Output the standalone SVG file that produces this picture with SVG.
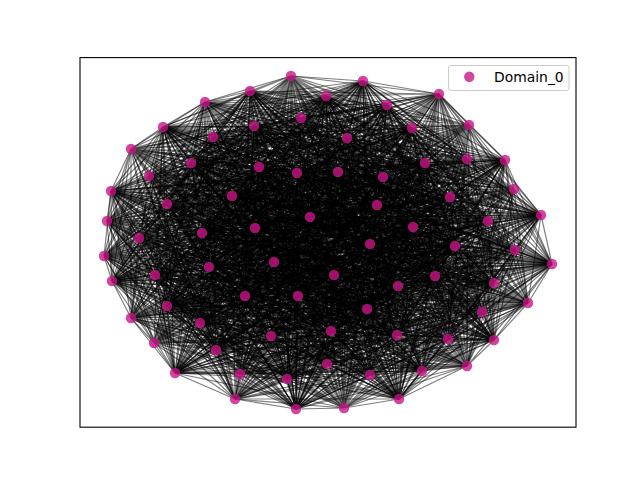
<svg xmlns="http://www.w3.org/2000/svg" width="640" height="480" viewBox="0 0 640 480">
<style>
.e{fill:none;stroke:#000;stroke-opacity:0.5;stroke-width:1.2}
.n{fill:#c71585;fill-opacity:0.8}
.t{font-family:"DejaVu Sans","Liberation Sans",sans-serif;font-size:13.9px;fill:#000}
</style>
<rect width="640" height="480" fill="#fff"/>
<g id="edges">
<path class="e" d="M291 76 250 91M291 76 163 127M291 76 111 191M291 76 326 96M291 76 254 126M291 76 191 163M291 76 259 167M291 76 232 196M291 76 310 217M291 76 202 233M291 76 363 81M291 76 387 105M291 76 412 128M291 76 505 160M291 76 425 163M291 76 383 177M291 76 450 197M291 76 541 215M291 76 413 227M291 76 455 246M291 76 552 264M291 76 112 281M291 76 209 267M291 76 245 296M291 76 167 306M291 76 200 323M291 76 216 350M291 76 175 373M291 76 287 379M291 76 296 409M291 76 331 331M291 76 398 286M291 76 494 283M291 76 367 309M291 76 397 335M291 76 494 340M291 76 422 371M291 76 399 399"/>
<path class="e" d="M205 102 250 91M205 102 163 127M205 102 111 191M205 102 326 96M205 102 254 126M205 102 191 163M205 102 259 167M205 102 232 196M205 102 310 217M205 102 202 233M205 102 363 81M205 102 387 105M205 102 412 128M205 102 505 160M205 102 425 163M205 102 383 177M205 102 450 197M205 102 541 215M205 102 413 227M205 102 455 246M205 102 552 264M205 102 112 281M205 102 209 267M205 102 245 296M205 102 167 306M205 102 200 323M205 102 216 350M205 102 175 373M205 102 287 379M205 102 296 409M205 102 331 331M205 102 398 286M205 102 494 283M205 102 367 309M205 102 397 335M205 102 494 340M205 102 422 371M205 102 399 399"/>
<path class="e" d="M131 149 250 91M131 149 163 127M131 149 111 191M131 149 326 96M131 149 254 126M131 149 191 163M131 149 259 167M131 149 232 196M131 149 310 217M131 149 202 233M131 149 363 81M131 149 387 105M131 149 412 128M131 149 505 160M131 149 425 163M131 149 383 177M131 149 450 197M131 149 541 215M131 149 413 227M131 149 455 246M131 149 552 264M131 149 112 281M131 149 209 267M131 149 245 296M131 149 167 306M131 149 200 323M131 149 216 350M131 149 175 373M131 149 287 379M131 149 296 409M131 149 331 331M131 149 398 286M131 149 494 283M131 149 367 309M131 149 397 335M131 149 494 340M131 149 422 371M131 149 399 399"/>
<path class="e" d="M107 221 250 91M107 221 163 127M107 221 111 191M107 221 326 96M107 221 254 126M107 221 191 163M107 221 259 167M107 221 232 196M107 221 310 217M107 221 202 233M107 221 363 81M107 221 387 105M107 221 412 128M107 221 505 160M107 221 425 163M107 221 383 177M107 221 450 197M107 221 541 215M107 221 413 227M107 221 455 246M107 221 552 264M107 221 112 281M107 221 209 267M107 221 245 296M107 221 167 306M107 221 200 323M107 221 216 350M107 221 175 373M107 221 287 379M107 221 296 409M107 221 331 331M107 221 398 286M107 221 494 283M107 221 367 309M107 221 397 335M107 221 494 340M107 221 422 371M107 221 399 399"/>
<path class="e" d="M301 118 250 91M301 118 163 127M301 118 111 191M301 118 326 96M301 118 254 126M301 118 191 163M301 118 259 167M301 118 232 196M301 118 310 217M301 118 202 233M301 118 363 81M301 118 387 105M301 118 412 128M301 118 505 160M301 118 425 163M301 118 383 177M301 118 450 197M301 118 541 215M301 118 413 227M301 118 455 246M301 118 552 264M301 118 112 281M301 118 209 267M301 118 245 296M301 118 167 306M301 118 200 323M301 118 216 350M301 118 175 373M301 118 287 379M301 118 296 409M301 118 331 331M301 118 398 286M301 118 494 283M301 118 367 309M301 118 397 335M301 118 494 340M301 118 422 371M301 118 399 399"/>
<path class="e" d="M213 137 250 91M213 137 163 127M213 137 111 191M213 137 326 96M213 137 254 126M213 137 191 163M213 137 259 167M213 137 232 196M213 137 310 217M213 137 202 233M213 137 363 81M213 137 387 105M213 137 412 128M213 137 505 160M213 137 425 163M213 137 383 177M213 137 450 197M213 137 541 215M213 137 413 227M213 137 455 246M213 137 552 264M213 137 112 281M213 137 209 267M213 137 245 296M213 137 167 306M213 137 200 323M213 137 216 350M213 137 175 373M213 137 287 379M213 137 296 409M213 137 331 331M213 137 398 286M213 137 494 283M213 137 367 309M213 137 397 335M213 137 494 340M213 137 422 371M213 137 399 399"/>
<path class="e" d="M149 176 250 91M149 176 163 127M149 176 111 191M149 176 326 96M149 176 254 126M149 176 191 163M149 176 259 167M149 176 232 196M149 176 310 217M149 176 202 233M149 176 363 81M149 176 387 105M149 176 412 128M149 176 505 160M149 176 425 163M149 176 383 177M149 176 450 197M149 176 541 215M149 176 413 227M149 176 455 246M149 176 552 264M149 176 112 281M149 176 209 267M149 176 245 296M149 176 167 306M149 176 200 323M149 176 216 350M149 176 175 373M149 176 287 379M149 176 296 409M149 176 331 331M149 176 398 286M149 176 494 283M149 176 367 309M149 176 397 335M149 176 494 340M149 176 422 371M149 176 399 399"/>
<path class="e" d="M297 173 250 91M297 173 163 127M297 173 111 191M297 173 326 96M297 173 254 126M297 173 191 163M297 173 259 167M297 173 232 196M297 173 310 217M297 173 202 233M297 173 363 81M297 173 387 105M297 173 412 128M297 173 505 160M297 173 425 163M297 173 383 177M297 173 450 197M297 173 541 215M297 173 413 227M297 173 455 246M297 173 552 264M297 173 112 281M297 173 209 267M297 173 245 296M297 173 167 306M297 173 200 323M297 173 216 350M297 173 175 373M297 173 287 379M297 173 296 409M297 173 331 331M297 173 398 286M297 173 494 283M297 173 367 309M297 173 397 335M297 173 494 340M297 173 422 371M297 173 399 399"/>
<path class="e" d="M167 204 250 91M167 204 163 127M167 204 111 191M167 204 326 96M167 204 254 126M167 204 191 163M167 204 259 167M167 204 232 196M167 204 310 217M167 204 202 233M167 204 363 81M167 204 387 105M167 204 412 128M167 204 505 160M167 204 425 163M167 204 383 177M167 204 450 197M167 204 541 215M167 204 413 227M167 204 455 246M167 204 552 264M167 204 112 281M167 204 209 267M167 204 245 296M167 204 167 306M167 204 200 323M167 204 216 350M167 204 175 373M167 204 287 379M167 204 296 409M167 204 331 331M167 204 398 286M167 204 494 283M167 204 367 309M167 204 397 335M167 204 494 340M167 204 422 371M167 204 399 399"/>
<path class="e" d="M255 228 250 91M255 228 163 127M255 228 111 191M255 228 326 96M255 228 254 126M255 228 191 163M255 228 259 167M255 228 232 196M255 228 310 217M255 228 202 233M255 228 363 81M255 228 387 105M255 228 412 128M255 228 505 160M255 228 425 163M255 228 383 177M255 228 450 197M255 228 541 215M255 228 413 227M255 228 455 246M255 228 552 264M255 228 112 281M255 228 209 267M255 228 245 296M255 228 167 306M255 228 200 323M255 228 216 350M255 228 175 373M255 228 287 379M255 228 296 409M255 228 331 331M255 228 398 286M255 228 494 283M255 228 367 309M255 228 397 335M255 228 494 340M255 228 422 371M255 228 399 399"/>
<path class="e" d="M139 238 250 91M139 238 163 127M139 238 111 191M139 238 326 96M139 238 254 126M139 238 191 163M139 238 259 167M139 238 232 196M139 238 310 217M139 238 202 233M139 238 363 81M139 238 387 105M139 238 412 128M139 238 505 160M139 238 425 163M139 238 383 177M139 238 450 197M139 238 541 215M139 238 413 227M139 238 455 246M139 238 552 264M139 238 112 281M139 238 209 267M139 238 245 296M139 238 167 306M139 238 200 323M139 238 216 350M139 238 175 373M139 238 287 379M139 238 296 409M139 238 331 331M139 238 398 286M139 238 494 283M139 238 367 309M139 238 397 335M139 238 494 340M139 238 422 371M139 238 399 399"/>
<path class="e" d="M439 94 250 91M439 94 163 127M439 94 111 191M439 94 326 96M439 94 254 126M439 94 191 163M439 94 259 167M439 94 232 196M439 94 310 217M439 94 202 233M439 94 363 81M439 94 387 105M439 94 412 128M439 94 505 160M439 94 425 163M439 94 383 177M439 94 450 197M439 94 541 215M439 94 413 227M439 94 455 246M439 94 552 264M439 94 112 281M439 94 209 267M439 94 245 296M439 94 167 306M439 94 200 323M439 94 216 350M439 94 175 373M439 94 287 379M439 94 296 409M439 94 331 331M439 94 398 286M439 94 494 283M439 94 367 309M439 94 397 335M439 94 494 340M439 94 422 371M439 94 399 399"/>
<path class="e" d="M469 125 250 91M469 125 163 127M469 125 111 191M469 125 326 96M469 125 254 126M469 125 191 163M469 125 259 167M469 125 232 196M469 125 310 217M469 125 202 233M469 125 363 81M469 125 387 105M469 125 412 128M469 125 505 160M469 125 425 163M469 125 383 177M469 125 450 197M469 125 541 215M469 125 413 227M469 125 455 246M469 125 552 264M469 125 112 281M469 125 209 267M469 125 245 296M469 125 167 306M469 125 200 323M469 125 216 350M469 125 175 373M469 125 287 379M469 125 296 409M469 125 331 331M469 125 398 286M469 125 494 283M469 125 367 309M469 125 397 335M469 125 494 340M469 125 422 371M469 125 399 399"/>
<path class="e" d="M347 138 250 91M347 138 163 127M347 138 111 191M347 138 326 96M347 138 254 126M347 138 191 163M347 138 259 167M347 138 232 196M347 138 310 217M347 138 202 233M347 138 363 81M347 138 387 105M347 138 412 128M347 138 505 160M347 138 425 163M347 138 383 177M347 138 450 197M347 138 541 215M347 138 413 227M347 138 455 246M347 138 552 264M347 138 112 281M347 138 209 267M347 138 245 296M347 138 167 306M347 138 200 323M347 138 216 350M347 138 175 373M347 138 287 379M347 138 296 409M347 138 331 331M347 138 398 286M347 138 494 283M347 138 367 309M347 138 397 335M347 138 494 340M347 138 422 371M347 138 399 399"/>
<path class="e" d="M467 159 250 91M467 159 163 127M467 159 111 191M467 159 326 96M467 159 254 126M467 159 191 163M467 159 259 167M467 159 232 196M467 159 310 217M467 159 202 233M467 159 363 81M467 159 387 105M467 159 412 128M467 159 505 160M467 159 425 163M467 159 383 177M467 159 450 197M467 159 541 215M467 159 413 227M467 159 455 246M467 159 552 264M467 159 112 281M467 159 209 267M467 159 245 296M467 159 167 306M467 159 200 323M467 159 216 350M467 159 175 373M467 159 287 379M467 159 296 409M467 159 331 331M467 159 398 286M467 159 494 283M467 159 367 309M467 159 397 335M467 159 494 340M467 159 422 371M467 159 399 399"/>
<path class="e" d="M338 172 250 91M338 172 163 127M338 172 111 191M338 172 326 96M338 172 254 126M338 172 191 163M338 172 259 167M338 172 232 196M338 172 310 217M338 172 202 233M338 172 363 81M338 172 387 105M338 172 412 128M338 172 505 160M338 172 425 163M338 172 383 177M338 172 450 197M338 172 541 215M338 172 413 227M338 172 455 246M338 172 552 264M338 172 112 281M338 172 209 267M338 172 245 296M338 172 167 306M338 172 200 323M338 172 216 350M338 172 175 373M338 172 287 379M338 172 296 409M338 172 331 331M338 172 398 286M338 172 494 283M338 172 367 309M338 172 397 335M338 172 494 340M338 172 422 371M338 172 399 399"/>
<path class="e" d="M514 189 250 91M514 189 163 127M514 189 111 191M514 189 326 96M514 189 254 126M514 189 191 163M514 189 259 167M514 189 232 196M514 189 310 217M514 189 202 233M514 189 363 81M514 189 387 105M514 189 412 128M514 189 505 160M514 189 425 163M514 189 383 177M514 189 450 197M514 189 541 215M514 189 413 227M514 189 455 246M514 189 552 264M514 189 112 281M514 189 209 267M514 189 245 296M514 189 167 306M514 189 200 323M514 189 216 350M514 189 175 373M514 189 287 379M514 189 296 409M514 189 331 331M514 189 398 286M514 189 494 283M514 189 367 309M514 189 397 335M514 189 494 340M514 189 422 371M514 189 399 399"/>
<path class="e" d="M377 205 250 91M377 205 163 127M377 205 111 191M377 205 326 96M377 205 254 126M377 205 191 163M377 205 259 167M377 205 232 196M377 205 310 217M377 205 202 233M377 205 363 81M377 205 387 105M377 205 412 128M377 205 505 160M377 205 425 163M377 205 383 177M377 205 450 197M377 205 541 215M377 205 413 227M377 205 455 246M377 205 552 264M377 205 112 281M377 205 209 267M377 205 245 296M377 205 167 306M377 205 200 323M377 205 216 350M377 205 175 373M377 205 287 379M377 205 296 409M377 205 331 331M377 205 398 286M377 205 494 283M377 205 367 309M377 205 397 335M377 205 494 340M377 205 422 371M377 205 399 399"/>
<path class="e" d="M488 221 250 91M488 221 163 127M488 221 111 191M488 221 326 96M488 221 254 126M488 221 191 163M488 221 259 167M488 221 232 196M488 221 310 217M488 221 202 233M488 221 363 81M488 221 387 105M488 221 412 128M488 221 505 160M488 221 425 163M488 221 383 177M488 221 450 197M488 221 541 215M488 221 413 227M488 221 455 246M488 221 552 264M488 221 112 281M488 221 209 267M488 221 245 296M488 221 167 306M488 221 200 323M488 221 216 350M488 221 175 373M488 221 287 379M488 221 296 409M488 221 331 331M488 221 398 286M488 221 494 283M488 221 367 309M488 221 397 335M488 221 494 340M488 221 422 371M488 221 399 399"/>
<path class="e" d="M370 244 250 91M370 244 163 127M370 244 111 191M370 244 326 96M370 244 254 126M370 244 191 163M370 244 259 167M370 244 232 196M370 244 310 217M370 244 202 233M370 244 363 81M370 244 387 105M370 244 412 128M370 244 505 160M370 244 425 163M370 244 383 177M370 244 450 197M370 244 541 215M370 244 413 227M370 244 455 246M370 244 552 264M370 244 112 281M370 244 209 267M370 244 245 296M370 244 167 306M370 244 200 323M370 244 216 350M370 244 175 373M370 244 287 379M370 244 296 409M370 244 331 331M370 244 398 286M370 244 494 283M370 244 367 309M370 244 397 335M370 244 494 340M370 244 422 371M370 244 399 399"/>
<path class="e" d="M515 250 250 91M515 250 163 127M515 250 111 191M515 250 326 96M515 250 254 126M515 250 191 163M515 250 259 167M515 250 232 196M515 250 310 217M515 250 202 233M515 250 363 81M515 250 387 105M515 250 412 128M515 250 505 160M515 250 425 163M515 250 383 177M515 250 450 197M515 250 541 215M515 250 413 227M515 250 455 246M515 250 552 264M515 250 112 281M515 250 209 267M515 250 245 296M515 250 167 306M515 250 200 323M515 250 216 350M515 250 175 373M515 250 287 379M515 250 296 409M515 250 331 331M515 250 398 286M515 250 494 283M515 250 367 309M515 250 397 335M515 250 494 340M515 250 422 371M515 250 399 399"/>
<path class="e" d="M104 256 250 91M104 256 163 127M104 256 111 191M104 256 326 96M104 256 254 126M104 256 191 163M104 256 259 167M104 256 232 196M104 256 310 217M104 256 202 233M104 256 363 81M104 256 387 105M104 256 412 128M104 256 505 160M104 256 425 163M104 256 383 177M104 256 450 197M104 256 541 215M104 256 413 227M104 256 455 246M104 256 552 264M104 256 112 281M104 256 209 267M104 256 245 296M104 256 167 306M104 256 200 323M104 256 216 350M104 256 175 373M104 256 287 379M104 256 296 409M104 256 331 331M104 256 398 286M104 256 494 283M104 256 367 309M104 256 397 335M104 256 494 340M104 256 422 371M104 256 399 399"/>
<path class="e" d="M155 275 250 91M155 275 163 127M155 275 111 191M155 275 326 96M155 275 254 126M155 275 191 163M155 275 259 167M155 275 232 196M155 275 310 217M155 275 202 233M155 275 363 81M155 275 387 105M155 275 412 128M155 275 505 160M155 275 425 163M155 275 383 177M155 275 450 197M155 275 541 215M155 275 413 227M155 275 455 246M155 275 552 264M155 275 112 281M155 275 209 267M155 275 245 296M155 275 167 306M155 275 200 323M155 275 216 350M155 275 175 373M155 275 287 379M155 275 296 409M155 275 331 331M155 275 398 286M155 275 494 283M155 275 367 309M155 275 397 335M155 275 494 340M155 275 422 371M155 275 399 399"/>
<path class="e" d="M274 262 250 91M274 262 163 127M274 262 111 191M274 262 326 96M274 262 254 126M274 262 191 163M274 262 259 167M274 262 232 196M274 262 310 217M274 262 202 233M274 262 363 81M274 262 387 105M274 262 412 128M274 262 505 160M274 262 425 163M274 262 383 177M274 262 450 197M274 262 541 215M274 262 413 227M274 262 455 246M274 262 552 264M274 262 112 281M274 262 209 267M274 262 245 296M274 262 167 306M274 262 200 323M274 262 216 350M274 262 175 373M274 262 287 379M274 262 296 409M274 262 331 331M274 262 398 286M274 262 494 283M274 262 367 309M274 262 397 335M274 262 494 340M274 262 422 371M274 262 399 399"/>
<path class="e" d="M298 296 250 91M298 296 163 127M298 296 111 191M298 296 326 96M298 296 254 126M298 296 191 163M298 296 259 167M298 296 232 196M298 296 310 217M298 296 202 233M298 296 363 81M298 296 387 105M298 296 412 128M298 296 505 160M298 296 425 163M298 296 383 177M298 296 450 197M298 296 541 215M298 296 413 227M298 296 455 246M298 296 552 264M298 296 112 281M298 296 209 267M298 296 245 296M298 296 167 306M298 296 200 323M298 296 216 350M298 296 175 373M298 296 287 379M298 296 296 409M298 296 331 331M298 296 398 286M298 296 494 283M298 296 367 309M298 296 397 335M298 296 494 340M298 296 422 371M298 296 399 399"/>
<path class="e" d="M131 318 250 91M131 318 163 127M131 318 111 191M131 318 326 96M131 318 254 126M131 318 191 163M131 318 259 167M131 318 232 196M131 318 310 217M131 318 202 233M131 318 363 81M131 318 387 105M131 318 412 128M131 318 505 160M131 318 425 163M131 318 383 177M131 318 450 197M131 318 541 215M131 318 413 227M131 318 455 246M131 318 552 264M131 318 112 281M131 318 209 267M131 318 245 296M131 318 167 306M131 318 200 323M131 318 216 350M131 318 175 373M131 318 287 379M131 318 296 409M131 318 331 331M131 318 398 286M131 318 494 283M131 318 367 309M131 318 397 335M131 318 494 340M131 318 422 371M131 318 399 399"/>
<path class="e" d="M154 343 250 91M154 343 163 127M154 343 111 191M154 343 326 96M154 343 254 126M154 343 191 163M154 343 259 167M154 343 232 196M154 343 310 217M154 343 202 233M154 343 363 81M154 343 387 105M154 343 412 128M154 343 505 160M154 343 425 163M154 343 383 177M154 343 450 197M154 343 541 215M154 343 413 227M154 343 455 246M154 343 552 264M154 343 112 281M154 343 209 267M154 343 245 296M154 343 167 306M154 343 200 323M154 343 216 350M154 343 175 373M154 343 287 379M154 343 296 409M154 343 331 331M154 343 398 286M154 343 494 283M154 343 367 309M154 343 397 335M154 343 494 340M154 343 422 371M154 343 399 399"/>
<path class="e" d="M271 336 250 91M271 336 163 127M271 336 111 191M271 336 326 96M271 336 254 126M271 336 191 163M271 336 259 167M271 336 232 196M271 336 310 217M271 336 202 233M271 336 363 81M271 336 387 105M271 336 412 128M271 336 505 160M271 336 425 163M271 336 383 177M271 336 450 197M271 336 541 215M271 336 413 227M271 336 455 246M271 336 552 264M271 336 112 281M271 336 209 267M271 336 245 296M271 336 167 306M271 336 200 323M271 336 216 350M271 336 175 373M271 336 287 379M271 336 296 409M271 336 331 331M271 336 398 286M271 336 494 283M271 336 367 309M271 336 397 335M271 336 494 340M271 336 422 371M271 336 399 399"/>
<path class="e" d="M240 374 250 91M240 374 163 127M240 374 111 191M240 374 326 96M240 374 254 126M240 374 191 163M240 374 259 167M240 374 232 196M240 374 310 217M240 374 202 233M240 374 363 81M240 374 387 105M240 374 412 128M240 374 505 160M240 374 425 163M240 374 383 177M240 374 450 197M240 374 541 215M240 374 413 227M240 374 455 246M240 374 552 264M240 374 112 281M240 374 209 267M240 374 245 296M240 374 167 306M240 374 200 323M240 374 216 350M240 374 175 373M240 374 287 379M240 374 296 409M240 374 331 331M240 374 398 286M240 374 494 283M240 374 367 309M240 374 397 335M240 374 494 340M240 374 422 371M240 374 399 399"/>
<path class="e" d="M235 399 250 91M235 399 163 127M235 399 111 191M235 399 326 96M235 399 254 126M235 399 191 163M235 399 259 167M235 399 232 196M235 399 310 217M235 399 202 233M235 399 363 81M235 399 387 105M235 399 412 128M235 399 505 160M235 399 425 163M235 399 383 177M235 399 450 197M235 399 541 215M235 399 413 227M235 399 455 246M235 399 552 264M235 399 112 281M235 399 209 267M235 399 245 296M235 399 167 306M235 399 200 323M235 399 216 350M235 399 175 373M235 399 287 379M235 399 296 409M235 399 331 331M235 399 398 286M235 399 494 283M235 399 367 309M235 399 397 335M235 399 494 340M235 399 422 371M235 399 399 399"/>
<path class="e" d="M327 364 250 91M327 364 163 127M327 364 111 191M327 364 326 96M327 364 254 126M327 364 191 163M327 364 259 167M327 364 232 196M327 364 310 217M327 364 202 233M327 364 363 81M327 364 387 105M327 364 412 128M327 364 505 160M327 364 425 163M327 364 383 177M327 364 450 197M327 364 541 215M327 364 413 227M327 364 455 246M327 364 552 264M327 364 112 281M327 364 209 267M327 364 245 296M327 364 167 306M327 364 200 323M327 364 216 350M327 364 175 373M327 364 287 379M327 364 296 409M327 364 331 331M327 364 398 286M327 364 494 283M327 364 367 309M327 364 397 335M327 364 494 340M327 364 422 371M327 364 399 399"/>
<path class="e" d="M334 275 250 91M334 275 163 127M334 275 111 191M334 275 326 96M334 275 254 126M334 275 191 163M334 275 259 167M334 275 232 196M334 275 310 217M334 275 202 233M334 275 363 81M334 275 387 105M334 275 412 128M334 275 505 160M334 275 425 163M334 275 383 177M334 275 450 197M334 275 541 215M334 275 413 227M334 275 455 246M334 275 552 264M334 275 112 281M334 275 209 267M334 275 245 296M334 275 167 306M334 275 200 323M334 275 216 350M334 275 175 373M334 275 287 379M334 275 296 409M334 275 331 331M334 275 398 286M334 275 494 283M334 275 367 309M334 275 397 335M334 275 494 340M334 275 422 371M334 275 399 399"/>
<path class="e" d="M435 276 250 91M435 276 163 127M435 276 111 191M435 276 326 96M435 276 254 126M435 276 191 163M435 276 259 167M435 276 232 196M435 276 310 217M435 276 202 233M435 276 363 81M435 276 387 105M435 276 412 128M435 276 505 160M435 276 425 163M435 276 383 177M435 276 450 197M435 276 541 215M435 276 413 227M435 276 455 246M435 276 552 264M435 276 112 281M435 276 209 267M435 276 245 296M435 276 167 306M435 276 200 323M435 276 216 350M435 276 175 373M435 276 287 379M435 276 296 409M435 276 331 331M435 276 398 286M435 276 494 283M435 276 367 309M435 276 397 335M435 276 494 340M435 276 422 371M435 276 399 399"/>
<path class="e" d="M528 303 250 91M528 303 163 127M528 303 111 191M528 303 326 96M528 303 254 126M528 303 191 163M528 303 259 167M528 303 232 196M528 303 310 217M528 303 202 233M528 303 363 81M528 303 387 105M528 303 412 128M528 303 505 160M528 303 425 163M528 303 383 177M528 303 450 197M528 303 541 215M528 303 413 227M528 303 455 246M528 303 552 264M528 303 112 281M528 303 209 267M528 303 245 296M528 303 167 306M528 303 200 323M528 303 216 350M528 303 175 373M528 303 287 379M528 303 296 409M528 303 331 331M528 303 398 286M528 303 494 283M528 303 367 309M528 303 397 335M528 303 494 340M528 303 422 371M528 303 399 399"/>
<path class="e" d="M482 312 250 91M482 312 163 127M482 312 111 191M482 312 326 96M482 312 254 126M482 312 191 163M482 312 259 167M482 312 232 196M482 312 310 217M482 312 202 233M482 312 363 81M482 312 387 105M482 312 412 128M482 312 505 160M482 312 425 163M482 312 383 177M482 312 450 197M482 312 541 215M482 312 413 227M482 312 455 246M482 312 552 264M482 312 112 281M482 312 209 267M482 312 245 296M482 312 167 306M482 312 200 323M482 312 216 350M482 312 175 373M482 312 287 379M482 312 296 409M482 312 331 331M482 312 398 286M482 312 494 283M482 312 367 309M482 312 397 335M482 312 494 340M482 312 422 371M482 312 399 399"/>
<path class="e" d="M448 339 250 91M448 339 163 127M448 339 111 191M448 339 326 96M448 339 254 126M448 339 191 163M448 339 259 167M448 339 232 196M448 339 310 217M448 339 202 233M448 339 363 81M448 339 387 105M448 339 412 128M448 339 505 160M448 339 425 163M448 339 383 177M448 339 450 197M448 339 541 215M448 339 413 227M448 339 455 246M448 339 552 264M448 339 112 281M448 339 209 267M448 339 245 296M448 339 167 306M448 339 200 323M448 339 216 350M448 339 175 373M448 339 287 379M448 339 296 409M448 339 331 331M448 339 398 286M448 339 494 283M448 339 367 309M448 339 397 335M448 339 494 340M448 339 422 371M448 339 399 399"/>
<path class="e" d="M370 375 250 91M370 375 163 127M370 375 111 191M370 375 326 96M370 375 254 126M370 375 191 163M370 375 259 167M370 375 232 196M370 375 310 217M370 375 202 233M370 375 363 81M370 375 387 105M370 375 412 128M370 375 505 160M370 375 425 163M370 375 383 177M370 375 450 197M370 375 541 215M370 375 413 227M370 375 455 246M370 375 552 264M370 375 112 281M370 375 209 267M370 375 245 296M370 375 167 306M370 375 200 323M370 375 216 350M370 375 175 373M370 375 287 379M370 375 296 409M370 375 331 331M370 375 398 286M370 375 494 283M370 375 367 309M370 375 397 335M370 375 494 340M370 375 422 371M370 375 399 399"/>
<path class="e" d="M467 366 250 91M467 366 163 127M467 366 111 191M467 366 326 96M467 366 254 126M467 366 191 163M467 366 259 167M467 366 232 196M467 366 310 217M467 366 202 233M467 366 363 81M467 366 387 105M467 366 412 128M467 366 505 160M467 366 425 163M467 366 383 177M467 366 450 197M467 366 541 215M467 366 413 227M467 366 455 246M467 366 552 264M467 366 112 281M467 366 209 267M467 366 245 296M467 366 167 306M467 366 200 323M467 366 216 350M467 366 175 373M467 366 287 379M467 366 296 409M467 366 331 331M467 366 398 286M467 366 494 283M467 366 367 309M467 366 397 335M467 366 494 340M467 366 422 371M467 366 399 399"/>
<path class="e" d="M344 408 250 91M344 408 163 127M344 408 111 191M344 408 326 96M344 408 254 126M344 408 191 163M344 408 259 167M344 408 232 196M344 408 310 217M344 408 202 233M344 408 363 81M344 408 387 105M344 408 412 128M344 408 505 160M344 408 425 163M344 408 383 177M344 408 450 197M344 408 541 215M344 408 413 227M344 408 455 246M344 408 552 264M344 408 112 281M344 408 209 267M344 408 245 296M344 408 167 306M344 408 200 323M344 408 216 350M344 408 175 373M344 408 287 379M344 408 296 409M344 408 331 331M344 408 398 286M344 408 494 283M344 408 367 309M344 408 397 335M344 408 494 340M344 408 422 371M344 408 399 399"/>
<path class="e" d="M291 76 205 102M291 76 107 221M291 76 213 137M291 76 297 173M291 76 255 228M291 76 439 94M291 76 347 138M291 76 338 172M291 76 377 205M291 76 370 244M291 76 104 256M291 76 274 262M291 76 131 318M291 76 271 336M291 76 235 399M291 76 334 275M291 76 528 303M291 76 448 339M291 76 467 366"/>
<path class="e" d="M131 149 205 102M131 149 107 221M131 149 213 137M131 149 297 173M131 149 255 228M131 149 439 94M131 149 347 138M131 149 338 172M131 149 377 205M131 149 370 244M131 149 104 256M131 149 274 262M131 149 131 318M131 149 271 336M131 149 235 399M131 149 334 275M131 149 528 303M131 149 448 339M131 149 467 366"/>
<path class="e" d="M301 118 205 102M301 118 107 221M301 118 213 137M301 118 297 173M301 118 255 228M301 118 439 94M301 118 347 138M301 118 338 172M301 118 377 205M301 118 370 244M301 118 104 256M301 118 274 262M301 118 131 318M301 118 271 336M301 118 235 399M301 118 334 275M301 118 528 303M301 118 448 339M301 118 467 366"/>
<path class="e" d="M149 176 205 102M149 176 107 221M149 176 213 137M149 176 297 173M149 176 255 228M149 176 439 94M149 176 347 138M149 176 338 172M149 176 377 205M149 176 370 244M149 176 104 256M149 176 274 262M149 176 131 318M149 176 271 336M149 176 235 399M149 176 334 275M149 176 528 303M149 176 448 339M149 176 467 366"/>
<path class="e" d="M167 204 205 102M167 204 107 221M167 204 213 137M167 204 297 173M167 204 255 228M167 204 439 94M167 204 347 138M167 204 338 172M167 204 377 205M167 204 370 244M167 204 104 256M167 204 274 262M167 204 131 318M167 204 271 336M167 204 235 399M167 204 334 275M167 204 528 303M167 204 448 339M167 204 467 366"/>
<path class="e" d="M139 238 205 102M139 238 107 221M139 238 213 137M139 238 297 173M139 238 255 228M139 238 439 94M139 238 347 138M139 238 338 172M139 238 377 205M139 238 370 244M139 238 104 256M139 238 274 262M139 238 131 318M139 238 271 336M139 238 235 399M139 238 334 275M139 238 528 303M139 238 448 339M139 238 467 366"/>
<path class="e" d="M469 125 205 102M469 125 107 221M469 125 213 137M469 125 297 173M469 125 255 228M469 125 439 94M469 125 347 138M469 125 338 172M469 125 377 205M469 125 370 244M469 125 104 256M469 125 274 262M469 125 131 318M469 125 271 336M469 125 235 399M469 125 334 275M469 125 528 303M469 125 448 339M469 125 467 366"/>
<path class="e" d="M467 159 205 102M467 159 107 221M467 159 213 137M467 159 297 173M467 159 255 228M467 159 439 94M467 159 347 138M467 159 338 172M467 159 377 205M467 159 370 244M467 159 104 256M467 159 274 262M467 159 131 318M467 159 271 336M467 159 235 399M467 159 334 275M467 159 528 303M467 159 448 339M467 159 467 366"/>
<path class="e" d="M514 189 205 102M514 189 107 221M514 189 213 137M514 189 297 173M514 189 255 228M514 189 439 94M514 189 347 138M514 189 338 172M514 189 377 205M514 189 370 244M514 189 104 256M514 189 274 262M514 189 131 318M514 189 271 336M514 189 235 399M514 189 334 275M514 189 528 303M514 189 448 339M514 189 467 366"/>
<path class="e" d="M488 221 205 102M488 221 107 221M488 221 213 137M488 221 297 173M488 221 255 228M488 221 439 94M488 221 347 138M488 221 338 172M488 221 377 205M488 221 370 244M488 221 104 256M488 221 274 262M488 221 131 318M488 221 271 336M488 221 235 399M488 221 334 275M488 221 528 303M488 221 448 339M488 221 467 366"/>
<path class="e" d="M515 250 205 102M515 250 107 221M515 250 213 137M515 250 297 173M515 250 255 228M515 250 439 94M515 250 347 138M515 250 338 172M515 250 377 205M515 250 370 244M515 250 104 256M515 250 274 262M515 250 131 318M515 250 271 336M515 250 235 399M515 250 334 275M515 250 528 303M515 250 448 339M515 250 467 366"/>
<path class="e" d="M155 275 205 102M155 275 107 221M155 275 213 137M155 275 297 173M155 275 255 228M155 275 439 94M155 275 347 138M155 275 338 172M155 275 377 205M155 275 370 244M155 275 104 256M155 275 274 262M155 275 131 318M155 275 271 336M155 275 235 399M155 275 334 275M155 275 528 303M155 275 448 339M155 275 467 366"/>
<path class="e" d="M298 296 205 102M298 296 107 221M298 296 213 137M298 296 297 173M298 296 255 228M298 296 439 94M298 296 347 138M298 296 338 172M298 296 377 205M298 296 370 244M298 296 104 256M298 296 274 262M298 296 131 318M298 296 271 336M298 296 235 399M298 296 334 275M298 296 528 303M298 296 448 339M298 296 467 366"/>
<path class="e" d="M154 343 205 102M154 343 107 221M154 343 213 137M154 343 297 173M154 343 255 228M154 343 439 94M154 343 347 138M154 343 338 172M154 343 377 205M154 343 370 244M154 343 104 256M154 343 274 262M154 343 131 318M154 343 271 336M154 343 235 399M154 343 334 275M154 343 528 303M154 343 448 339M154 343 467 366"/>
<path class="e" d="M240 374 205 102M240 374 107 221M240 374 213 137M240 374 297 173M240 374 255 228M240 374 439 94M240 374 347 138M240 374 338 172M240 374 377 205M240 374 370 244M240 374 104 256M240 374 274 262M240 374 131 318M240 374 271 336M240 374 235 399M240 374 334 275M240 374 528 303M240 374 448 339M240 374 467 366"/>
<path class="e" d="M327 364 205 102M327 364 107 221M327 364 213 137M327 364 297 173M327 364 255 228M327 364 439 94M327 364 347 138M327 364 338 172M327 364 377 205M327 364 370 244M327 364 104 256M327 364 274 262M327 364 131 318M327 364 271 336M327 364 235 399M327 364 334 275M327 364 528 303M327 364 448 339M327 364 467 366"/>
<path class="e" d="M435 276 205 102M435 276 107 221M435 276 213 137M435 276 297 173M435 276 255 228M435 276 439 94M435 276 347 138M435 276 338 172M435 276 377 205M435 276 370 244M435 276 104 256M435 276 274 262M435 276 131 318M435 276 271 336M435 276 235 399M435 276 334 275M435 276 528 303M435 276 448 339M435 276 467 366"/>
<path class="e" d="M482 312 205 102M482 312 107 221M482 312 213 137M482 312 297 173M482 312 255 228M482 312 439 94M482 312 347 138M482 312 338 172M482 312 377 205M482 312 370 244M482 312 104 256M482 312 274 262M482 312 131 318M482 312 271 336M482 312 235 399M482 312 334 275M482 312 528 303M482 312 448 339M482 312 467 366"/>
<path class="e" d="M370 375 205 102M370 375 107 221M370 375 213 137M370 375 297 173M370 375 255 228M370 375 439 94M370 375 347 138M370 375 338 172M370 375 377 205M370 375 370 244M370 375 104 256M370 375 274 262M370 375 131 318M370 375 271 336M370 375 235 399M370 375 334 275M370 375 528 303M370 375 448 339M370 375 467 366"/>
<path class="e" d="M344 408 205 102M344 408 107 221M344 408 213 137M344 408 297 173M344 408 255 228M344 408 439 94M344 408 347 138M344 408 338 172M344 408 377 205M344 408 370 244M344 408 104 256M344 408 274 262M344 408 131 318M344 408 271 336M344 408 235 399M344 408 334 275M344 408 528 303M344 408 448 339M344 408 467 366"/>
<path class="e" d="M250 91 163 127M250 91 326 96M250 91 191 163M250 91 232 196M250 91 202 233M250 91 387 105M250 91 505 160M250 91 383 177M250 91 541 215M250 91 455 246M250 91 112 281M250 91 245 296M250 91 200 323M250 91 175 373M250 91 296 409M250 91 398 286M250 91 367 309M250 91 494 340M250 91 399 399"/>
<path class="e" d="M111 191 163 127M111 191 326 96M111 191 191 163M111 191 232 196M111 191 202 233M111 191 387 105M111 191 505 160M111 191 383 177M111 191 541 215M111 191 455 246M111 191 112 281M111 191 245 296M111 191 200 323M111 191 175 373M111 191 296 409M111 191 398 286M111 191 367 309M111 191 494 340M111 191 399 399"/>
<path class="e" d="M254 126 163 127M254 126 326 96M254 126 191 163M254 126 232 196M254 126 202 233M254 126 387 105M254 126 505 160M254 126 383 177M254 126 541 215M254 126 455 246M254 126 112 281M254 126 245 296M254 126 200 323M254 126 175 373M254 126 296 409M254 126 398 286M254 126 367 309M254 126 494 340M254 126 399 399"/>
<path class="e" d="M259 167 163 127M259 167 326 96M259 167 191 163M259 167 232 196M259 167 202 233M259 167 387 105M259 167 505 160M259 167 383 177M259 167 541 215M259 167 455 246M259 167 112 281M259 167 245 296M259 167 200 323M259 167 175 373M259 167 296 409M259 167 398 286M259 167 367 309M259 167 494 340M259 167 399 399"/>
<path class="e" d="M310 217 163 127M310 217 326 96M310 217 191 163M310 217 232 196M310 217 202 233M310 217 387 105M310 217 505 160M310 217 383 177M310 217 541 215M310 217 455 246M310 217 112 281M310 217 245 296M310 217 200 323M310 217 175 373M310 217 296 409M310 217 398 286M310 217 367 309M310 217 494 340M310 217 399 399"/>
<path class="e" d="M363 81 163 127M363 81 326 96M363 81 191 163M363 81 232 196M363 81 202 233M363 81 387 105M363 81 505 160M363 81 383 177M363 81 541 215M363 81 455 246M363 81 112 281M363 81 245 296M363 81 200 323M363 81 175 373M363 81 296 409M363 81 398 286M363 81 367 309M363 81 494 340M363 81 399 399"/>
<path class="e" d="M412 128 163 127M412 128 326 96M412 128 191 163M412 128 232 196M412 128 202 233M412 128 387 105M412 128 505 160M412 128 383 177M412 128 541 215M412 128 455 246M412 128 112 281M412 128 245 296M412 128 200 323M412 128 175 373M412 128 296 409M412 128 398 286M412 128 367 309M412 128 494 340M412 128 399 399"/>
<path class="e" d="M425 163 163 127M425 163 326 96M425 163 191 163M425 163 232 196M425 163 202 233M425 163 387 105M425 163 505 160M425 163 383 177M425 163 541 215M425 163 455 246M425 163 112 281M425 163 245 296M425 163 200 323M425 163 175 373M425 163 296 409M425 163 398 286M425 163 367 309M425 163 494 340M425 163 399 399"/>
<path class="e" d="M450 197 163 127M450 197 326 96M450 197 191 163M450 197 232 196M450 197 202 233M450 197 387 105M450 197 505 160M450 197 383 177M450 197 541 215M450 197 455 246M450 197 112 281M450 197 245 296M450 197 200 323M450 197 175 373M450 197 296 409M450 197 398 286M450 197 367 309M450 197 494 340M450 197 399 399"/>
<path class="e" d="M413 227 163 127M413 227 326 96M413 227 191 163M413 227 232 196M413 227 202 233M413 227 387 105M413 227 505 160M413 227 383 177M413 227 541 215M413 227 455 246M413 227 112 281M413 227 245 296M413 227 200 323M413 227 175 373M413 227 296 409M413 227 398 286M413 227 367 309M413 227 494 340M413 227 399 399"/>
<path class="e" d="M552 264 163 127M552 264 326 96M552 264 191 163M552 264 232 196M552 264 202 233M552 264 387 105M552 264 505 160M552 264 383 177M552 264 541 215M552 264 455 246M552 264 112 281M552 264 245 296M552 264 200 323M552 264 175 373M552 264 296 409M552 264 398 286M552 264 367 309M552 264 494 340M552 264 399 399"/>
<path class="e" d="M209 267 163 127M209 267 326 96M209 267 191 163M209 267 232 196M209 267 202 233M209 267 387 105M209 267 505 160M209 267 383 177M209 267 541 215M209 267 455 246M209 267 112 281M209 267 245 296M209 267 200 323M209 267 175 373M209 267 296 409M209 267 398 286M209 267 367 309M209 267 494 340M209 267 399 399"/>
<path class="e" d="M167 306 163 127M167 306 326 96M167 306 191 163M167 306 232 196M167 306 202 233M167 306 387 105M167 306 505 160M167 306 383 177M167 306 541 215M167 306 455 246M167 306 112 281M167 306 245 296M167 306 200 323M167 306 175 373M167 306 296 409M167 306 398 286M167 306 367 309M167 306 494 340M167 306 399 399"/>
<path class="e" d="M216 350 163 127M216 350 326 96M216 350 191 163M216 350 232 196M216 350 202 233M216 350 387 105M216 350 505 160M216 350 383 177M216 350 541 215M216 350 455 246M216 350 112 281M216 350 245 296M216 350 200 323M216 350 175 373M216 350 296 409M216 350 398 286M216 350 367 309M216 350 494 340M216 350 399 399"/>
<path class="e" d="M287 379 163 127M287 379 326 96M287 379 191 163M287 379 232 196M287 379 202 233M287 379 387 105M287 379 505 160M287 379 383 177M287 379 541 215M287 379 455 246M287 379 112 281M287 379 245 296M287 379 200 323M287 379 175 373M287 379 296 409M287 379 398 286M287 379 367 309M287 379 494 340M287 379 399 399"/>
<path class="e" d="M331 331 163 127M331 331 326 96M331 331 191 163M331 331 232 196M331 331 202 233M331 331 387 105M331 331 505 160M331 331 383 177M331 331 541 215M331 331 455 246M331 331 112 281M331 331 245 296M331 331 200 323M331 331 175 373M331 331 296 409M331 331 398 286M331 331 367 309M331 331 494 340M331 331 399 399"/>
<path class="e" d="M494 283 163 127M494 283 326 96M494 283 191 163M494 283 232 196M494 283 202 233M494 283 387 105M494 283 505 160M494 283 383 177M494 283 541 215M494 283 455 246M494 283 112 281M494 283 245 296M494 283 200 323M494 283 175 373M494 283 296 409M494 283 398 286M494 283 367 309M494 283 494 340M494 283 399 399"/>
<path class="e" d="M397 335 163 127M397 335 326 96M397 335 191 163M397 335 232 196M397 335 202 233M397 335 387 105M397 335 505 160M397 335 383 177M397 335 541 215M397 335 455 246M397 335 112 281M397 335 245 296M397 335 200 323M397 335 175 373M397 335 296 409M397 335 398 286M397 335 367 309M397 335 494 340M397 335 399 399"/>
<path class="e" d="M422 371 163 127M422 371 326 96M422 371 191 163M422 371 232 196M422 371 202 233M422 371 387 105M422 371 505 160M422 371 383 177M422 371 541 215M422 371 455 246M422 371 112 281M422 371 245 296M422 371 200 323M422 371 175 373M422 371 296 409M422 371 398 286M422 371 367 309M422 371 494 340M422 371 399 399"/>
</g>
<g id="nodes">
<g id="n1"><circle class="n" cx="291" cy="76" r="5.2"/></g>
<g id="n2"><circle class="n" cx="250" cy="91" r="5.2"/></g>
<g id="n3"><circle class="n" cx="205" cy="102" r="5.2"/></g>
<g id="n4"><circle class="n" cx="163" cy="127" r="5.2"/></g>
<g id="n5"><circle class="n" cx="131" cy="149" r="5.2"/></g>
<g id="n6"><circle class="n" cx="111" cy="191" r="5.2"/></g>
<g id="n7"><circle class="n" cx="107" cy="221" r="5.2"/></g>
<g id="n8"><circle class="n" cx="326" cy="96" r="5.2"/></g>
<g id="n9"><circle class="n" cx="301" cy="118" r="5.2"/></g>
<g id="n10"><circle class="n" cx="254" cy="126" r="5.2"/></g>
<g id="n11"><circle class="n" cx="213" cy="137" r="5.2"/></g>
<g id="n12"><circle class="n" cx="191" cy="163" r="5.2"/></g>
<g id="n13"><circle class="n" cx="149" cy="176" r="5.2"/></g>
<g id="n14"><circle class="n" cx="259" cy="167" r="5.2"/></g>
<g id="n15"><circle class="n" cx="297" cy="173" r="5.2"/></g>
<g id="n16"><circle class="n" cx="232" cy="196" r="5.2"/></g>
<g id="n17"><circle class="n" cx="167" cy="204" r="5.2"/></g>
<g id="n18"><circle class="n" cx="310" cy="217" r="5.2"/></g>
<g id="n19"><circle class="n" cx="255" cy="228" r="5.2"/></g>
<g id="n20"><circle class="n" cx="202" cy="233" r="5.2"/></g>
<g id="n21"><circle class="n" cx="139" cy="238" r="5.2"/></g>
<g id="n22"><circle class="n" cx="363" cy="81" r="5.2"/></g>
<g id="n23"><circle class="n" cx="439" cy="94" r="5.2"/></g>
<g id="n24"><circle class="n" cx="387" cy="105" r="5.2"/></g>
<g id="n25"><circle class="n" cx="469" cy="125" r="5.2"/></g>
<g id="n26"><circle class="n" cx="412" cy="128" r="5.2"/></g>
<g id="n27"><circle class="n" cx="347" cy="138" r="5.2"/></g>
<g id="n28"><circle class="n" cx="505" cy="160" r="5.2"/></g>
<g id="n29"><circle class="n" cx="467" cy="159" r="5.2"/></g>
<g id="n30"><circle class="n" cx="425" cy="163" r="5.2"/></g>
<g id="n31"><circle class="n" cx="338" cy="172" r="5.2"/></g>
<g id="n32"><circle class="n" cx="383" cy="177" r="5.2"/></g>
<g id="n33"><circle class="n" cx="514" cy="189" r="5.2"/></g>
<g id="n34"><circle class="n" cx="450" cy="197" r="5.2"/></g>
<g id="n35"><circle class="n" cx="377" cy="205" r="5.2"/></g>
<g id="n36"><circle class="n" cx="541" cy="215" r="5.2"/></g>
<g id="n37"><circle class="n" cx="488" cy="221" r="5.2"/></g>
<g id="n38"><circle class="n" cx="413" cy="227" r="5.2"/></g>
<g id="n39"><circle class="n" cx="370" cy="244" r="5.2"/></g>
<g id="n40"><circle class="n" cx="455" cy="246" r="5.2"/></g>
<g id="n41"><circle class="n" cx="515" cy="250" r="5.2"/></g>
<g id="n42"><circle class="n" cx="552" cy="264" r="5.2"/></g>
<g id="n43"><circle class="n" cx="104" cy="256" r="5.2"/></g>
<g id="n44"><circle class="n" cx="112" cy="281" r="5.2"/></g>
<g id="n45"><circle class="n" cx="155" cy="275" r="5.2"/></g>
<g id="n46"><circle class="n" cx="209" cy="267" r="5.2"/></g>
<g id="n47"><circle class="n" cx="274" cy="262" r="5.2"/></g>
<g id="n48"><circle class="n" cx="245" cy="296" r="5.2"/></g>
<g id="n49"><circle class="n" cx="298" cy="296" r="5.2"/></g>
<g id="n50"><circle class="n" cx="167" cy="306" r="5.2"/></g>
<g id="n51"><circle class="n" cx="131" cy="318" r="5.2"/></g>
<g id="n52"><circle class="n" cx="200" cy="323" r="5.2"/></g>
<g id="n53"><circle class="n" cx="154" cy="343" r="5.2"/></g>
<g id="n54"><circle class="n" cx="216" cy="350" r="5.2"/></g>
<g id="n55"><circle class="n" cx="271" cy="336" r="5.2"/></g>
<g id="n56"><circle class="n" cx="175" cy="373" r="5.2"/></g>
<g id="n57"><circle class="n" cx="240" cy="374" r="5.2"/></g>
<g id="n58"><circle class="n" cx="287" cy="379" r="5.2"/></g>
<g id="n59"><circle class="n" cx="235" cy="399" r="5.2"/></g>
<g id="n60"><circle class="n" cx="296" cy="409" r="5.2"/></g>
<g id="n61"><circle class="n" cx="327" cy="364" r="5.2"/></g>
<g id="n62"><circle class="n" cx="331" cy="331" r="5.2"/></g>
<g id="n63"><circle class="n" cx="334" cy="275" r="5.2"/></g>
<g id="n64"><circle class="n" cx="398" cy="286" r="5.2"/></g>
<g id="n65"><circle class="n" cx="435" cy="276" r="5.2"/></g>
<g id="n66"><circle class="n" cx="494" cy="283" r="5.2"/></g>
<g id="n67"><circle class="n" cx="528" cy="303" r="5.2"/></g>
<g id="n68"><circle class="n" cx="367" cy="309" r="5.2"/></g>
<g id="n69"><circle class="n" cx="482" cy="312" r="5.2"/></g>
<g id="n70"><circle class="n" cx="397" cy="335" r="5.2"/></g>
<g id="n71"><circle class="n" cx="448" cy="339" r="5.2"/></g>
<g id="n72"><circle class="n" cx="494" cy="340" r="5.2"/></g>
<g id="n73"><circle class="n" cx="370" cy="375" r="5.2"/></g>
<g id="n74"><circle class="n" cx="422" cy="371" r="5.2"/></g>
<g id="n75"><circle class="n" cx="467" cy="366" r="5.2"/></g>
<g id="n76"><circle class="n" cx="399" cy="399" r="5.2"/></g>
<g id="n77"><circle class="n" cx="344" cy="408" r="5.2"/></g>
</g>
<rect x="80" y="57.6" width="496" height="369.6" fill="none" stroke="#000" stroke-width="1.1"/>
<g id="legend">
<rect x="448.5" y="65.5" width="120.5" height="25" rx="2.5" fill="#fff" fill-opacity="0.8" stroke="#ccc" stroke-width="1"/>
<circle class="n" cx="469.3" cy="76.7" r="5.2"/>
<text class="t" x="494" y="81.5">Domain_0</text>
</g>
</svg>
